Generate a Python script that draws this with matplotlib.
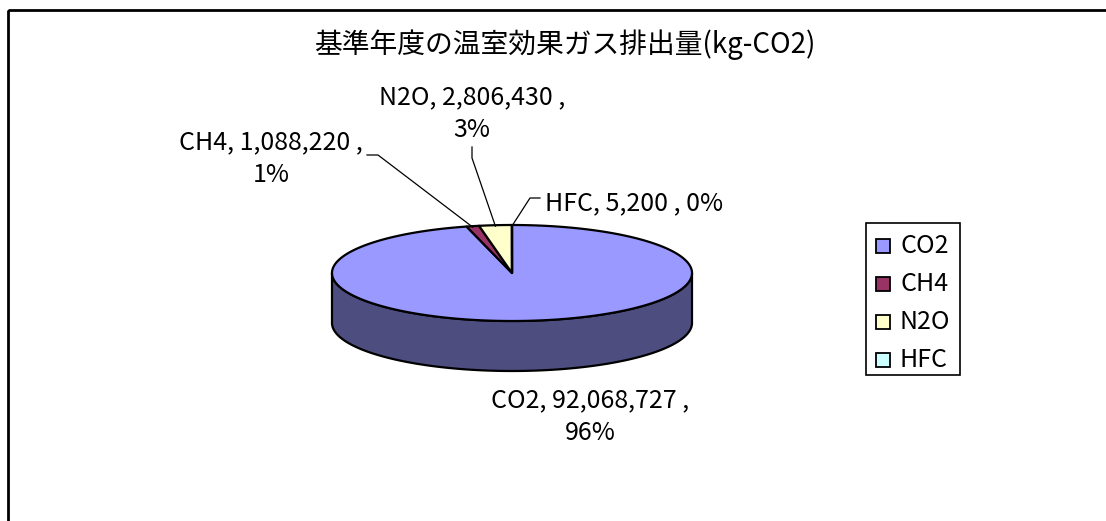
import numpy as np
import matplotlib
matplotlib.use("Agg")
import matplotlib.pyplot as plt
from matplotlib.patches import Polygon, Rectangle
from matplotlib.lines import Line2D

plt.rcParams['font.family'] = ['Noto Sans CJK JP', 'DejaVu Sans']

title = "基準年度の温室効果ガス排出量(kg-CO2)"
names = ["CO2", "CH4", "N2O", "HFC"]
values = [92068727, 1088220, 2806430, 5200]
colors = ["#9999FF", "#993366", "#FFFFCC", "#CCFFFF"]

# pie geometry in pixels
cx, cy = 512, 273
ra, rb = 180, 48
depth = 50

fig = plt.figure(figsize=(11.06, 5.21), dpi=100)
ax = fig.add_axes([0, 0, 1, 1])
ax.set_xlim(0, 1106)
ax.set_ylim(521, 0)
ax.axis("off")

# chart border (cut off on right and bottom)
ax.add_patch(Rectangle((7.5, 9.5), 1200, 600, fill=False, ec="black", lw=2))

def pt(t):
    t = np.radians(t)
    return cx + ra * np.sin(t), cy - rb * np.cos(t)

total = sum(values)
fracs = [v / total for v in values]
starts = np.concatenate([[0], np.cumsum(fracs)[:-1]]) * 360
ends = np.cumsum(fracs) * 360

# side walls (front half only: 90..270 deg)
for s, e, c in zip(starts, ends, colors):
    lo, hi = max(s, 90), min(e, 270)
    if hi <= lo:
        continue
    t = np.linspace(lo, hi, 200)
    xs, ys = pt(t)
    poly = np.vstack([np.column_stack([xs, ys]),
                      np.column_stack([xs[::-1], ys[::-1] + depth])])
    rgb = np.array(matplotlib.colors.to_rgb(c)) * 0.5
    ax.add_patch(Polygon(poly, closed=True, fc=rgb, ec="black", lw=1.6, joinstyle="round"))

# top wedges
for s, e, c in zip(starts, ends, colors):
    t = np.linspace(s, e, max(3, int((e - s) * 2)))
    xs, ys = pt(t)
    poly = np.vstack([[cx, cy], np.column_stack([xs, ys])])
    ax.add_patch(Polygon(poly, closed=True, fc=c, ec="black", lw=1.6, joinstyle="round"))

# data labels
label_pos = [(590, 400), (271, 142), (472, 97), (545, 203)]
fs = 18
for i, (n, v, f) in enumerate(zip(names, values, fracs)):
    pct = f"{round(f * 100):.0f}%"
    x, y = label_pos[i]
    if n == "HFC":
        ax.text(x, y, f"{n}, {v:,} , {pct}", fontsize=fs, ha="left", va="center")
    else:
        ax.text(x, y, f"{n}, {v:,} ,", fontsize=fs, ha="center", va="center")
        ax.text(x, y + 33, pct, fontsize=fs, ha="center", va="center")

# leader lines to slice midpoints on top rim
mids = (starts + ends) / 2
leaders = {1: [(367, 155), (378, 155)], 2: [(472, 147), (472, 158)], 3: [(540, 198), (530, 198)]}
for i, pts in leaders.items():
    mx, my = pt(mids[i])
    xs = [p[0] for p in pts] + [mx]
    ys = [p[1] for p in pts] + [my + 1]
    ax.add_line(Line2D(xs, ys, color="black", lw=0.9))

# legend
ax.add_patch(Rectangle((866, 223), 94, 152, fill=False, ec="black", lw=1.2))
for i, (n, c) in enumerate(zip(names, colors)):
    y = 246 + i * 38
    ax.add_patch(Rectangle((876, y - 7), 14, 14, fc=c, ec="black", lw=1.3))
    ax.text(900, y, n, fontsize=fs, ha="left", va="center")

ax.text(565, 45, title, fontsize=20, ha="center", va="center")

fig.savefig("out.png", dpi=100)
